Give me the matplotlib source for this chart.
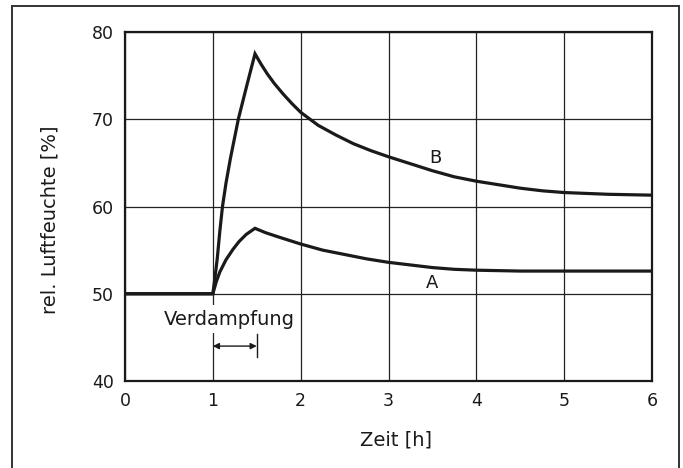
import numpy as np
import matplotlib.pyplot as plt
from matplotlib.lines import Line2D

# readings (time in h, rel. humidity in %)
t_b = [0, 1.0, 1.02, 1.05, 1.08, 1.11, 1.15, 1.2, 1.29, 1.39, 1.48,
       1.55, 1.62, 1.7, 1.8, 1.9, 2.0, 2.2, 2.4, 2.5, 2.6, 2.8, 3.0,
       3.25, 3.5, 3.75, 4.0, 4.25, 4.5, 4.75, 5.0, 5.5, 6.0]
rh_b = [50, 50, 51.5, 54, 57.2, 60, 62.7, 65.5, 70, 74.0, 77.5,
        76.3, 75.2, 74.1, 72.9, 71.8, 70.8, 69.3, 68.2, 67.7, 67.2, 66.4, 65.7,
        64.9, 64.1, 63.4, 62.9, 62.5, 62.1, 61.8, 61.6, 61.4, 61.3]

t_a = [0, 1.0, 1.04, 1.08, 1.15, 1.23, 1.3, 1.38, 1.48,
       1.6, 1.75, 2.0, 2.25, 2.5, 2.75, 3.0, 3.25, 3.5, 3.75, 4.0, 4.5, 5.0, 6.0]
rh_a = [50, 50, 51.4, 52.5, 53.9, 55.1, 56.0, 56.8, 57.5,
        57.0, 56.5, 55.7, 55.0, 54.5, 54.0, 53.6, 53.3, 53.0, 52.8, 52.7, 52.6, 52.6, 52.6]

x_ticks = [0, 1, 2, 3, 4, 5, 6]
y_ticks = [40, 50, 60, 70, 80]

fig = plt.figure(figsize=(6.83, 4.68), dpi=100)
ax = fig.add_axes([125/683, 87/468, 527/683, 349/468])

ax.plot(t_b, rh_b, color='#1a1a1a', lw=2.3, zorder=3, solid_joinstyle='miter')
ax.plot(t_a, rh_a, color='#1a1a1a', lw=2.3, zorder=3, solid_joinstyle='miter')

ax.set_xlim(0, 6)
ax.set_ylim(40, 80)
ax.set_xticks(x_ticks)
ax.set_yticks(y_ticks)
ax.grid(True, color='#222222', lw=0.9)
ax.set_axisbelow(True)
ax.tick_params(length=0, labelsize=12.5, pad=8, colors='#1a1a1a')
for s in ax.spines.values():
    s.set_linewidth(1.6)
    s.set_color('#1a1a1a')

ax.text(3.53, 65.6, 'B', fontsize=13, ha='center', va='center', color='#1a1a1a')
ax.text(3.5, 51.2, 'A', fontsize=13, ha='center', va='center', color='#1a1a1a')
ax.text(1.185, 47.1, 'Verdampfung', fontsize=14, ha='center', va='center', color='#1a1a1a',
        bbox=dict(facecolor='white', edgecolor='none', pad=3), zorder=4)
ax.annotate('', xy=(1.0, 44.0), xytext=(1.5, 44.0),
            arrowprops=dict(arrowstyle='<|-|>', color='#1a1a1a', lw=1.0,
                            mutation_scale=9, shrinkA=0, shrinkB=0))
ax.plot([1.5, 1.5], [42.7, 45.4], color='#1a1a1a', lw=1.0)

fig.text(50/683, 1 - 220/468, 'rel. Luftfeuchte [%]', rotation=90, fontsize=14,
         ha='center', va='center', color='#1a1a1a')
fig.text(396/683, 1 - 440/468, 'Zeit [h]', fontsize=14, ha='center', va='center',
         color='#1a1a1a')

# outer frame of the figure
for xs, ys in [([12, 12], [0, 462]), ([12, 679], [462, 462]), ([679, 679], [462, 0])]:
    fig.add_artist(Line2D(np.array(xs) / 683, np.array(ys) / 468,
                          color='#333333', lw=1.4))

fig.savefig('out.png', dpi=100)
